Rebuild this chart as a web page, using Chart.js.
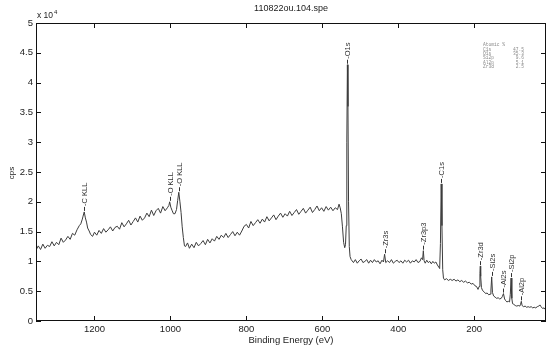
<!DOCTYPE html>
<html>
<head>
<meta charset="utf-8">
<script src="https://cdn.jsdelivr.net/npm/chart.js@4.4.1/dist/chart.umd.min.js"></script>
<style>
  html, body { margin: 0; padding: 0; background: #fff; }
</style>
</head>
<body>
<canvas id="spectrum" width="547" height="347"></canvas>
<script>
// Survey spectrum values (binding energy in eV, intensity in cps)
const energy = [
  1354, 1348, 1342, 1336, 1330, 1324, 1318, 1312, 1306, 1300,
  1294, 1288, 1282, 1276, 1270, 1264, 1258, 1252, 1246, 1240,
  1236, 1232, 1230, 1227, 1224, 1221, 1218, 1214, 1210, 1205,
  1200, 1194, 1188, 1182, 1176, 1170, 1164, 1158, 1152, 1146,
  1140, 1134, 1128, 1122, 1116, 1110, 1104, 1098, 1092, 1086,
  1080, 1074, 1068, 1062, 1056, 1050, 1044, 1038, 1032, 1026,
  1020, 1014, 1008, 1004, 1002, 999, 996, 992, 988, 984,
  981, 978, 975, 972, 969, 966, 963, 960, 955, 950,
  944, 938, 932, 926, 920, 914, 908, 902, 896, 890,
  884, 878, 872, 866, 860, 854, 848, 842, 836, 830,
  824, 818, 812, 806, 800, 794, 788, 782, 776, 770,
  764, 758, 752, 746, 740, 734, 728, 722, 716, 710,
  704, 698, 692, 686, 680, 674, 668, 662, 656, 650,
  644, 638, 632, 626, 620, 614, 608, 602, 596, 590,
  584, 578, 572, 566, 560, 556, 553, 550, 547, 544,
  541, 539, 537, 535.5, 534, 532.5, 531, 529, 527, 524,
  518, 513, 508, 503, 498, 493, 488, 483, 478, 473,
  468, 463, 458, 453, 448, 443, 439, 436, 433, 428,
  423, 418, 413, 408, 403, 398, 393, 388, 383, 378,
  373, 368, 363, 358, 353, 348, 343, 339, 336, 334,
  332, 329, 325, 321, 317, 313, 309, 305, 301, 297,
  293, 291, 289, 287, 285, 283, 281, 278, 273, 268,
  263, 258, 253, 248, 243, 238, 233, 228, 223, 218,
  213, 208, 203, 198, 194, 190, 187, 185, 184, 183,
  181, 178, 174, 170, 166, 162, 158, 156, 154, 152,
  149, 145, 141, 137, 133, 129, 126, 123, 120, 117,
  114, 110, 107, 105, 103, 101, 99, 96, 92, 88,
  84, 80, 78, 76, 74, 70, 66, 62, 58, 54,
  50, 46, 42, 38, 34, 30, 27, 24, 20, 16,
  11
];
const counts = [
  11900, 12600, 12000, 12900, 12200, 12700, 12500, 13300, 12600, 13200,
  12800, 13900, 13200, 13600, 14200, 13700, 14700, 14400, 15300, 16000,
  16300, 17100, 17600, 18300, 17300, 16600, 15600, 15100, 14500, 14200,
  14900, 14400, 15200, 14700, 15500, 14900, 15300, 15800, 15100, 15700,
  15900, 15400, 16500, 15800, 16300, 16900, 16100, 16700, 17300, 16600,
  17600, 16900, 17300, 18100, 17500, 18600, 17700, 18500, 18900, 18100,
  19200, 18500, 19000, 19400, 20000, 19100, 18600, 18000, 18000, 18700,
  20200, 21600, 20000, 18200, 15800, 14000, 12600, 12500, 13100, 12200,
  12900, 12300, 13200, 12600, 13000, 13500, 12800, 13700, 13100, 13800,
  13400, 14200, 13700, 14400, 14000, 14700, 14000, 14500, 15000, 14300,
  14900, 14400, 15100, 15900, 16200, 15600, 16700, 16000, 16500, 17000,
  16400, 17100, 16600, 17500, 16800, 17300, 17800, 17000, 17600, 18100,
  17400, 18000, 17600, 18400, 17700, 18200, 18700, 17900, 18400, 18900,
  18100, 18600, 19100, 18200, 18700, 19300, 18500, 19000, 18400, 19200,
  18600, 19100, 18500, 19000, 18700, 19600, 19000, 18000, 15800, 13200,
  12300, 12800, 16000, 30000, 43000, 36000, 20000, 12500, 10800, 10300,
  9800, 10300, 9700, 10100, 10400, 9800, 10000, 10300, 9700, 10200,
  9800, 10300, 9900, 10100, 9600, 10200, 9900, 11200, 9800, 10100,
  9800, 10300, 9700, 10000, 10200, 9800, 10100, 9700, 10200, 9900,
  10200, 9700, 10100, 9900, 10300, 9800, 10000, 10600, 10300, 11800,
  10100, 9700, 10200, 9800, 10000, 9600, 10000, 9700, 9900, 9400,
  9000, 8800, 13000, 23000, 16000, 8600, 7200, 6900, 7100, 6800,
  7000, 6800, 7000, 6700, 6900, 6600, 6800, 6500, 6700, 6400,
  6500, 6200, 6300, 5900, 5800, 5300, 5800, 8000, 9200, 7500,
  5600, 5100, 4900, 4600, 4700, 4400, 4500, 5200, 7400, 4800,
  4200, 4000, 3800, 3900, 3700, 3800, 4100, 4600, 3700, 3400,
  3200, 3300, 3200, 4500, 7200, 3800, 2900, 2800, 2600, 2500,
  2600, 2500, 2800, 3300, 2600, 2400, 2500, 2300, 2400, 2300,
  2400, 2200, 2300, 2200, 2400, 2500, 2700, 2400, 2100, 2200,
  1800
];

// Peak labels
const peakNames = ["C KLL", "O KLL", "O KLL", "O1s", "Zr3s", "Zr3p3", "C1s", "Zr3d", "Si2s", "Al2s", "Si2p", "Al2p"];
const peakEnergies = [1227, 1002, 978, 534, 436, 334, 287, 184, 154, 123, 103, 76];

// Atomic % table
const atomicNames = ["C1s", "O1s", "Si2p", "Al2p", "Zr3d"];
const atomicValues = ["47.5", "35.3", "9.6", "5.1", "2.5"];

// Axis ticks
const xTicks = [1200, 1000, 800, 600, 400, 200];
const yTicks = [0, 5000, 10000, 15000, 20000, 25000, 30000, 35000, 40000, 45000, 50000];

const FONT = "'Liberation Sans', Arial, sans-serif";

const points = energy.map((e, i) => ({ x: e, y: counts[i] }));

// Box, inward ticks and all the extra text
const framePlugin = {
  id: 'frame',
  afterDraw(chart) {
    const ctx = chart.ctx;
    const a = chart.chartArea;
    const xs = chart.scales.x;
    const ys = chart.scales.y;
    ctx.save();
    ctx.strokeStyle = '#111';
    ctx.lineWidth = 1;
    ctx.strokeRect(a.left + 0.5, a.top + 0.5, a.right - a.left - 1, a.bottom - a.top - 1);
    ctx.beginPath();
    xTicks.forEach(v => {
      const px = Math.round(xs.getPixelForValue(v)) + 0.5;
      ctx.moveTo(px, a.bottom); ctx.lineTo(px, a.bottom - 5);
      ctx.moveTo(px, a.top); ctx.lineTo(px, a.top + 5);
    });
    yTicks.forEach(v => {
      const py = Math.round(ys.getPixelForValue(v)) + 0.5;
      ctx.moveTo(a.left, py); ctx.lineTo(a.left + 5, py);
      ctx.moveTo(a.right, py); ctx.lineTo(a.right - 5, py);
    });
    ctx.stroke();

    // peak labels
    ctx.strokeStyle = '#333';
    ctx.fillStyle = '#333';
    ctx.font = '7.5px ' + FONT;
    peakEnergies.forEach((pe, k) => {
      let best = 0;
      energy.forEach((e, i) => {
        if (Math.abs(e - pe) < Math.abs(energy[best] - pe)) best = i;
      });
      const px = Math.round(xs.getPixelForValue(energy[best])) + 0.5;
      const py = ys.getPixelForValue(counts[best]);
      ctx.beginPath();
      ctx.moveTo(px, py - 1);
      ctx.lineTo(px, py - 5);
      ctx.stroke();
      ctx.save();
      ctx.translate(px, py - 6);
      ctx.rotate(-Math.PI / 2);
      ctx.textAlign = 'left';
      ctx.textBaseline = 'middle';
      ctx.fillText('-' + peakNames[k], 0, 0);
      ctx.restore();
    });

    // title and axis titles
    ctx.fillStyle = '#222';
    ctx.font = '9px ' + FONT;
    ctx.textAlign = 'center';
    ctx.textBaseline = 'middle';
    ctx.fillText('110822ou.104.spe', (a.left + a.right) / 2, 9);
    ctx.font = '9.5px ' + FONT;
    ctx.fillText('Binding Energy (eV)', (a.left + a.right) / 2, 340);
    ctx.save();
    ctx.translate(12, 173);
    ctx.rotate(-Math.PI / 2);
    ctx.font = '8px ' + FONT;
    ctx.fillText('cps', 0, 0);
    ctx.restore();

    // multiplier
    ctx.textAlign = 'left';
    ctx.font = '8.5px ' + FONT;
    ctx.fillText('x 10', 37, 16);
    ctx.font = '6px ' + FONT;
    ctx.fillText('4', 54, 12);

    // atomic % table
    ctx.fillStyle = '#8a8a8a';
    ctx.font = '4.6px "Liberation Mono", monospace';
    ctx.fillText('Atomic %', 483, 45);
    atomicNames.forEach((n, i) => {
      const ty = 49.4 + i * 4.3;
      ctx.textAlign = 'left';
      ctx.fillText(n, 483, ty);
      ctx.textAlign = 'right';
      ctx.fillText(atomicValues[i], 524, ty);
    });
    ctx.restore();
  }
};

new Chart(document.getElementById('spectrum'), {
  type: 'line',
  data: {
    datasets: [{
      data: points,
      borderColor: '#3c3c3c',
      borderWidth: 1,
      pointRadius: 0,
      tension: 0,
      fill: false
    }]
  },
  options: {
    responsive: false,
    animation: false,
    devicePixelRatio: 1,
    layout: { padding: { top: 23, right: 1, left: 0, bottom: 0 } },
    plugins: {
      legend: { display: false },
      tooltip: { enabled: false }
    },
    scales: {
      x: {
        type: 'linear',
        reverse: true,
        min: 11,
        max: 1354,
        grid: { display: false, drawTicks: false },
        border: { display: false },
        afterBuildTicks: s => { s.ticks = xTicks.map(v => ({ value: v })); },
        afterFit: s => { s.height = 26; },
        ticks: {
          color: '#222',
          padding: 3,
          maxRotation: 0,
          font: { family: FONT, size: 9.5 },
          callback: v => String(v)
        }
      },
      y: {
        min: 0,
        max: 50000,
        grid: { display: false, drawTicks: false },
        border: { display: false },
        afterBuildTicks: s => { s.ticks = yTicks.map(v => ({ value: v })); },
        afterFit: s => { s.width = 36; },
        ticks: {
          color: '#222',
          padding: 3,
          font: { family: FONT, size: 9.5 },
          callback: v => String(v / 10000)
        }
      }
    }
  },
  plugins: [framePlugin]
});
</script>
</body>
</html>
